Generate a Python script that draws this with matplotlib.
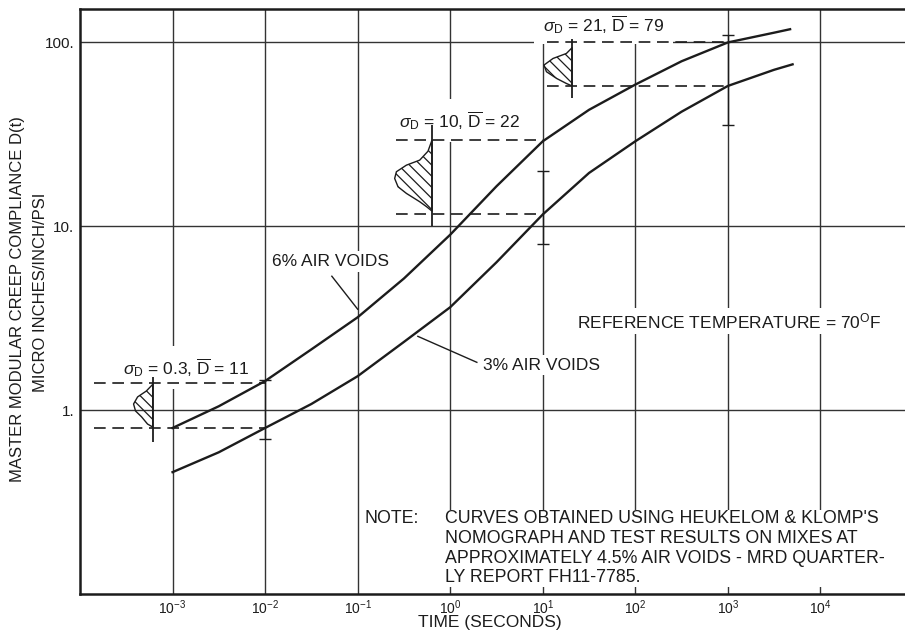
import numpy as np
import matplotlib as mpl
mpl.use('Agg')
import matplotlib.pyplot as plt

# master curves: time (s) vs creep compliance
t_6 = [1e-3, 3.16e-3, 1e-2, 3.16e-2, 1e-1, 0.316, 1, 3.16, 10, 31.6, 100, 316, 1000, 3160, 4700]
d_6 = [0.80, 1.05, 1.44, 2.14, 3.2, 5.2, 9.0, 16.5, 29, 43, 59, 79, 100, 113, 118]
t_3 = [1e-3, 3.16e-3, 1e-2, 3.16e-2, 1e-1, 0.316, 1, 3.16, 10, 31.6, 100, 316, 1000, 3160, 5000]
d_3 = [0.46, 0.59, 0.80, 1.08, 1.53, 2.35, 3.63, 6.37, 11.6, 19.5, 29, 42, 58, 71, 76]

# scatter bands (dashed limits), error bars and distribution axes
band_t0 = [1.4e-4, 0.26, 11]
band_t1 = [1e-2, 10, 1000]
band_hi = [1.4, 29.3, 100]
band_lo = [0.80, 11.6, 58]
bar_t = [1e-2, 10, 1000]
bar_hi = [1.46, 19.9, 110]
bar_lo = [0.70, 8.0, 35.4]
axis_t = [6.1e-4, 0.635, 20.7]
axis_hi = [1.51, 35.4, 104]
axis_lo = [0.67, 10, 49.6]

# hand sketched distributions (outline points)
bell_t = [[6.1e-4, 5.2e-4, 4.19e-4, 3.79e-4, 3.98e-4, 4.62e-4, 5.37e-4, 6.1e-4],
          [0.635, 0.575, 0.468, 0.336, 0.262, 0.251, 0.273, 0.336, 0.468, 0.553, 0.635],
          [20.7, 18.0, 12.9, 10.3, 10.96, 14.1, 18.0, 20.7]]
bell_d = [[1.38, 1.27, 1.18, 1.08, 0.99, 0.92, 0.84, 0.81],
          [29.4, 25.6, 22.9, 21.5, 19.8, 18.2, 16.4, 15.1, 13.6, 12.8, 12.1],
          [93.5, 87.1, 81.8, 75.3, 69.3, 63.7, 59.8, 58.0]]

sigma = ['0.3', '10', '21']
dmean = ['11', '22', '79']
sig_pos = [(2.9e-4, 1.71), (0.279, 37.7), (10.0, 125)]
sig_pad = [7, 7, 6]

xticks = [1e-3, 1e-2, 1e-1, 1, 10, 100, 1000, 1e4]
xlabels = [r'$10^{-3}$', r'$10^{-2}$', r'$10^{-1}$', r'$10^{0}$',
           r'$10^{1}$', r'$10^{2}$', r'$10^{3}$', r'$10^{4}$']
yticks = [1, 10, 100]
ylabels = ['1.', '10.', '100.']

note = ("CURVES OBTAINED USING HEUKELOM & KLOMP'S\n"
        "NOMOGRAPH AND TEST RESULTS ON MIXES AT\n"
        "APPROXIMATELY 4.5% AIR VOIDS - MRD QUARTER-\n"
        "LY REPORT FH11-7785.")

plt.rcParams['font.family'] = ['Liberation Sans', 'DejaVu Sans']
plt.rcParams['mathtext.fontset'] = 'custom'
plt.rcParams['mathtext.rm'] = 'Liberation Sans'
plt.rcParams['mathtext.it'] = 'Liberation Sans:italic'
plt.rcParams['hatch.linewidth'] = 0.9
ink = '#1c1c1c'

fig = plt.figure(figsize=(9.05, 6.31), dpi=100)
ax = fig.add_axes([80/905, 37/631, 833/905, 585/631])
ax.set_xscale('log')
ax.set_yscale('log')
ax.set_xlim(1e-4, 1e5)
ax.set_ylim(0.1, 152)
ax.set_xticks(xticks, labels=xlabels)
ax.set_yticks(yticks, labels=ylabels)
ax.minorticks_off()
ax.tick_params(length=0, colors=ink)
ax.tick_params(axis='x', pad=3, labelsize=10)
ax.tick_params(axis='y', pad=4, labelsize=11)
ax.set_axisbelow(True)
ax.grid(True, color='#333333', lw=1.0)
for s in ax.spines.values():
    s.set_linewidth(1.8)
    s.set_color(ink)
    s.set_zorder(10)

ax.plot(t_6, d_6, color=ink, lw=1.7, zorder=5)
ax.plot(t_3, d_3, color=ink, lw=1.7, zorder=5)

for i in range(3):
    ax.hlines([band_hi[i], band_lo[i]], band_t0[i], band_t1[i], colors=ink,
              linestyles=(0, (7, 4)), lw=1.2, zorder=4)
    ax.errorbar([bar_t[i]], [bar_lo[i]], yerr=[[0], [bar_hi[i] - bar_lo[i]]],
                fmt='none', ecolor=ink, elinewidth=1.0, capsize=4, capthick=1.0, zorder=4)
    ax.vlines(axis_t[i], axis_lo[i], axis_hi[i], colors=ink, lw=1.3, zorder=4)
    ax.fill_betweenx(bell_d[i], bell_t[i], axis_t[i], facecolor='none',
                     edgecolor=ink, hatch='\\\\\\', lw=1.0, zorder=4)
    ax.text(sig_pos[i][0], sig_pos[i][1],
            r'$\sigma_{\mathrm{D}}$ = ' + sigma[i] + r', $\overline{\mathrm{D}}$ = ' + dmean[i],
            fontsize=12.5, color=ink, ha='left', va='center', zorder=3,
            bbox=dict(facecolor='white', edgecolor='none', pad=sig_pad[i]))

box = dict(facecolor='white', edgecolor='none', pad=2)
ax.text(0.0119, 6.45, '6% AIR VOIDS', fontsize=12.5, color=ink, va='center', bbox=box, zorder=3)
ax.plot([0.0526, 0.1], [5.35, 3.54], color=ink, lw=1.0, zorder=4)
ax.text(2.25, 1.76, '3% AIR VOIDS', fontsize=12.5, color=ink, va='center', bbox=box, zorder=3)
ax.plot([0.447, 1.94], [2.52, 1.82], color=ink, lw=1.0, zorder=4)
ax.text(23.3, 3.05, r'REFERENCE TEMPERATURE = 70$^{\mathrm{O}}$F', fontsize=12.5,
        color=ink, va='center', bbox=box, zorder=3)

ax.text(0.12, 0.285, 'NOTE:', fontsize=12.8, color=ink, va='top')
ax.text(0.877, 0.285, note, fontsize=12.8, color=ink, va='top', linespacing=1.2,
        bbox=dict(facecolor='white', edgecolor='none', pad=0.5), zorder=3)

fig.text(490/905, 1 - 623/631, 'TIME (SECONDS)', fontsize=12.5, color=ink,
         family=['Liberation Sans Narrow', 'Liberation Sans'], ha='center', va='center')
fig.text(18/905, 1 - 299/631, 'MASTER MODULAR CREEP COMPLIANCE D(t)', fontsize=12,
         color=ink, rotation=90, ha='center', va='center')
fig.text(41/905, 1 - 292/631, 'MICRO INCHES/INCH/PSI', fontsize=12,
         color=ink, rotation=90, ha='center', va='center')

fig.savefig('out.png', dpi=100, facecolor='white')
